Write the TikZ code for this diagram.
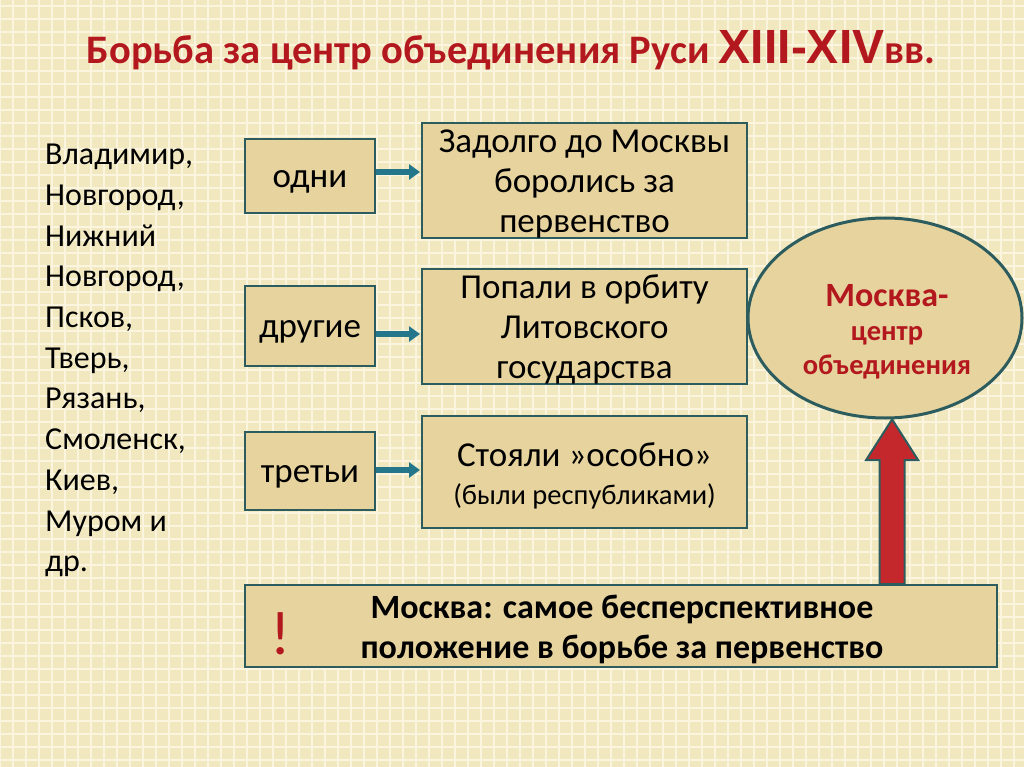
\documentclass[tikz,border=0pt]{standalone}
\usepackage{fontspec}
\setmainfont{Carlito}
\newfontfamily\centuryfont{Liberation Sans}
\usetikzlibrary{shapes.geometric,arrows.meta,calc}

\definecolor{paper}{RGB}{242,232,192}
\definecolor{gridline}{RGB}{251,244,222}
\definecolor{papyrus}{RGB}{231,211,158}
\definecolor{frame}{RGB}{44,92,94}
\definecolor{arrowteal}{RGB}{36,118,138}
\definecolor{titlered}{RGB}{178,24,30}
\definecolor{blockred}{RGB}{196,40,44}

\tikzset{
  groupbox/.style = {rectangle, draw = frame, line width = 2pt,
      fill = papyrus, minimum width = 130pt, minimum height = 74pt,
      font = \fontsize{35}{40}\selectfont, inner sep = 0pt,
      text height = 23pt, text depth = 0pt},
  fatebox/.style = {rectangle, draw = frame, line width = 2pt,
      fill = papyrus, minimum width = 325pt, minimum height = 112pt,
      align = center, inner sep = 0pt,
      font = \fontsize{35}{40}\selectfont},
  linkarrow/.style = {draw = arrowteal, line width = 6pt,
      -{Triangle[length=11pt, width=15pt]}, shorten >= 1pt},
}

\begin{document}
\begin{tikzpicture}[x=1pt, y=-1pt]
\useasboundingbox (0,0) rectangle (1024,767);

% background
\fill[paper] (0,0) rectangle (1024,767);
\foreach \g in {0,13,...,1024}
  \draw[gridline, line width=1.6pt] (\g,0) -- (\g,767);
\foreach \g in {6,19,...,767}
  \draw[gridline, line width=1.6pt] (0,\g) -- (1024,\g);

% title
\node[text = titlered, font = \fontsize{40.5}{48}\selectfont\bfseries]
  (title) at (511,50)
  {Борьба за центр объединения Руси {\centuryfont\fontsize{48}{48}\selectfont XIII-XIV}вв.};

% cities
\node[anchor = north west, align = left,
    font = \fontsize{32}{40.7}\selectfont, inner sep = 0pt]
  (cities) at (45,144)
  {Владимир,\\Новгород,\\Нижний\\Новгород,\\Псков,\\Тверь,\\Рязань,\\Смоленск,\\Киев,\\Муром и\\др.};

% first row
\node[groupbox] (odni) at (310,176) {одни};
\node[fatebox] (fate1) at (584.5,180.5)
  {\rule{0pt}{30pt}Задолго до Москвы\\боролись за\\первенство};

% second row
\node[groupbox, minimum height = 80pt] (drugie) at (310,326) {другие};
\node[fatebox] (fate2) at (584.5,326.5)
  {\rule{0pt}{30pt}Попали в орбиту\\Литовского\\государства};

% third row
\node[groupbox, minimum height = 78pt] (treti) at (310,471) {третьи};
\node[fatebox] (fate3) at (584.5,472)
  {\rule{0pt}{32pt}Стояли »особно»\\[-2pt]{\fontsize{28.5}{34}\selectfont(были республиками)}};

% arrows
\draw[linkarrow] (odni.east |- 0,172) -- (fate1.west |- 0,172);
\draw[linkarrow] (drugie.east |- 0,334) -- (fate2.west |- 0,334);
\draw[linkarrow] (treti.east |- 0,470) -- (fate3.west |- 0,470);

% moscow
\node[ellipse, draw = frame, line width = 3pt, fill = papyrus,
    minimum width = 274pt, minimum height = 200pt]
  (moscow) at (885,318) {};
\node[text = titlered, align = center,
    font = \fontsize{28.5}{34}\selectfont\bfseries]
  (moscowtext) at (887,332)
  {{\fontsize{34}{34}\selectfont Москва-}\\центр\\объединения};

% bottom box
\node[rectangle, draw = frame, line width = 2pt, fill = papyrus,
    minimum width = 752pt, minimum height = 82pt, inner sep = 0pt]
  (weak) at (621,626) {};
\node[font = \fontsize{34}{40}\selectfont\bfseries, align = center]
  (weaktext) at (622,629)
  {Москва: самое бесперспективное\\положение в борьбе за первенство};
\node[text = titlered, font = \fontsize{62}{62}\selectfont]
  (mark) at (281,634) {!};

% red block arrow up to moscow
\coordinate (tip) at (moscow.-86);
\coordinate (tail) at (weak.north -| tip);
\filldraw[fill = blockred, draw = frame, line width = 2pt]
  ($(tail)+(-12.5,0)$) -- ($(tail |- 0,460)+(-12.5,0)$)
  -- ($(tail |- 0,460)+(-26,0)$) -- (tip)
  -- ($(tail |- 0,460)+(26,0)$) -- ($(tail |- 0,460)+(12.5,0)$)
  -- ($(tail)+(12.5,0)$) -- cycle;

\end{tikzpicture}
\end{document}
